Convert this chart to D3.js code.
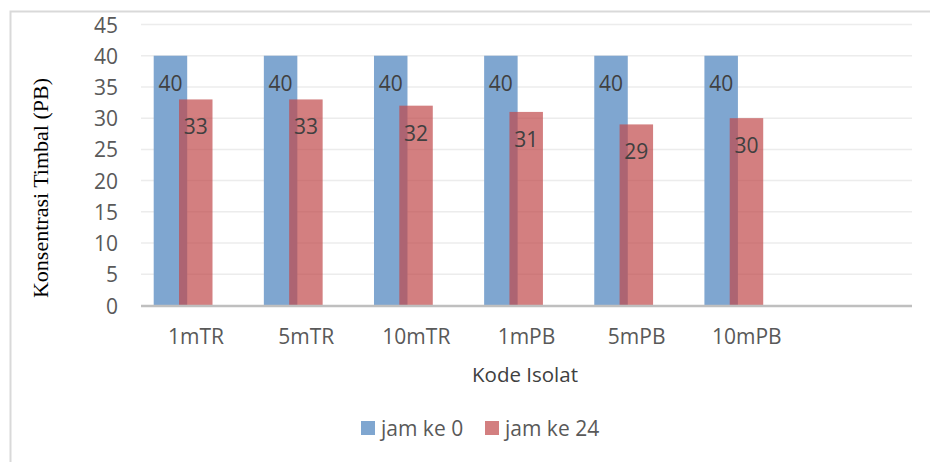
<!DOCTYPE html>
<html>
<head>
<meta charset="utf-8">
<script src="https://cdn.jsdelivr.net/npm/d3@7"></script>
<style>
  body { margin: 0; background: #fff; }
  text { font-family: "Open Sans", sans-serif; }
</style>
</head>
<body>
<svg width="930" height="462"></svg>
<script>
var categories = ["1mTR", "5mTR", "10mTR", "1mPB", "5mPB", "10mPB", ""];
var jam0 = [40, 40, 40, 40, 40, 40];
var jam24 = [33, 33, 32, 31, 29, 30];
var yTicks = [0, 5, 10, 15, 20, 25, 30, 35, 40, 45];
var seriesNames = ["jam ke 0", "jam ke 24"];
var colors = ["#7fa6d0", "rgba(193,72,74,0.7)"];

var w = 930, h = 462;
var svg = d3.select("svg");

// outer frame
svg.append("rect")
   .attr("x", 10.5).attr("y", 11.5)
   .attr("width", 940).attr("height", 470)
   .attr("fill", "none")
   .attr("stroke", "#d9d9d9")
   .attr("stroke-width", 2);

var x = d3.scaleBand()
          .domain(categories)
          .range([141, 912]);

var y = d3.scaleLinear()
          .domain([0, 45])
          .range([305.5, 24.5]);

// gridlines
svg.append("g")
   .selectAll("line")
   .data(yTicks.slice(1))
   .enter()
   .append("line")
   .attr("x1", 141).attr("x2", 912)
   .attr("y1", function(d) { return y(d); })
   .attr("y2", function(d) { return y(d); })
   .attr("stroke", "#ececec")
   .attr("stroke-width", 1.5);

// y axis labels
var yAxis = d3.axisLeft(y).tickValues(yTicks).tickSize(0).tickPadding(0);
var yg = svg.append("g")
   .attr("transform", "translate(118,0)")
   .call(yAxis);
yg.select(".domain").remove();
yg.selectAll("text")
  .attr("font-family", "Open Sans, sans-serif")
  .attr("font-size", 21)
  .attr("fill", "#595959")
  .attr("dy", "0.36em");

var barW = 33.5;
var off0 = 12.7, off1 = 38;

// blue bars
svg.append("g")
   .selectAll("rect")
   .data(jam0)
   .enter()
   .append("rect")
   .attr("x", function(d, i) { return x(categories[i]) + off0; })
   .attr("y", function(d) { return y(d); })
   .attr("width", barW)
   .attr("height", function(d) { return y(0) - y(d); })
   .attr("fill", colors[0]);

// red bars (transparent over blue)
svg.append("g")
   .selectAll("rect")
   .data(jam24)
   .enter()
   .append("rect")
   .attr("x", function(d, i) { return x(categories[i]) + off1; })
   .attr("y", function(d) { return y(d); })
   .attr("width", barW)
   .attr("height", function(d) { return y(0) - y(d); })
   .attr("fill", colors[1]);

// value labels
function addLabels(data, off) {
  svg.append("g")
     .selectAll("text")
     .data(data)
     .enter()
     .append("text")
     .attr("x", function(d, i) { return x(categories[i]) + off + barW / 2; })
     .attr("y", function(d) { return y(d) + 35; })
     .attr("text-anchor", "middle")
     .attr("font-size", 21)
     .attr("fill", "#404040")
     .text(function(d) { return d; });
}
addLabels(jam0, off0);
addLabels(jam24, off1);

// x axis line
svg.append("line")
   .attr("x1", 141).attr("x2", 912)
   .attr("y1", y(0) + 0.5).attr("y2", y(0) + 0.5)
   .attr("stroke", "#bfbfbf")
   .attr("stroke-width", 2.5);

// x labels
svg.append("g")
   .selectAll("text")
   .data(categories)
   .enter()
   .append("text")
   .attr("x", function(d) { return x(d) + x.bandwidth() / 2; })
   .attr("y", 344)
   .attr("text-anchor", "middle")
   .attr("font-size", 21)
   .attr("fill", "#595959")
   .text(function(d) { return d; });

// axis titles
svg.append("text")
   .attr("x", 525).attr("y", 382)
   .attr("text-anchor", "middle")
   .attr("font-size", 20.5)
   .attr("fill", "#404040")
   .text("Kode Isolat");

svg.append("text")
   .attr("transform", "translate(48,188) rotate(-90)")
   .attr("text-anchor", "middle")
   .style("font-family", "'Liberation Serif', serif")
   .attr("font-size", 22)
   .attr("fill", "#000")
   .text("Konsentrasi Timbal (PB)");

// legend
var legendX = [361, 485];
var lg = svg.append("g")
   .selectAll("g")
   .data(seriesNames)
   .enter()
   .append("g")
   .attr("transform", function(d, i) { return "translate(" + legendX[i] + ",421)"; });
lg.append("rect")
  .attr("width", 14).attr("height", 14)
  .attr("fill", function(d, i) { return colors[i]; });
lg.append("text")
  .attr("x", 20).attr("y", 14.5)
  .attr("font-size", 21)
  .attr("fill", "#595959")
  .text(function(d) { return d; });
</script>
</body>
</html>
